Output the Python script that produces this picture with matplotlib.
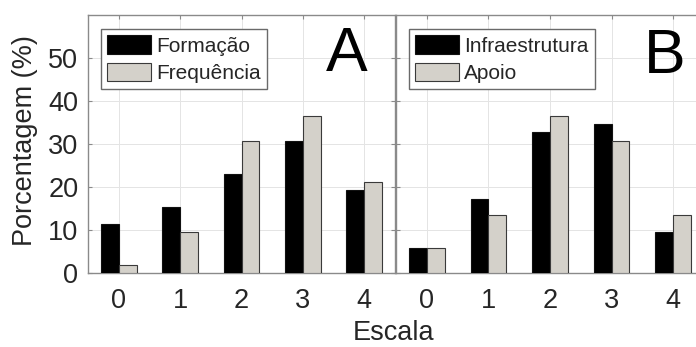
import matplotlib
matplotlib.use("Agg")
import matplotlib.pyplot as plt
import numpy as np

plt.rcParams['font.family'] = ['Liberation Sans', 'DejaVu Sans']

categories = [0, 1, 2, 3, 4]
formacao = [11.5, 15.4, 23.1, 30.8, 19.2]
frequencia = [1.9, 9.6, 30.8, 36.5, 21.2]
infraestrutura = [5.8, 17.3, 32.7, 34.6, 9.6]
apoio = [5.8, 13.5, 36.5, 30.8, 13.5]
yticks = [0, 10, 20, 30, 40, 50]

W, H = 696, 347
fig = plt.figure(figsize=(W / 100, H / 100), dpi=100)

BLACK = '#000000'
GRAY = '#D4D1CA'
SPINE = '#8a8a8a'
TXT = '#262626'
FS = 19.5

def setup(ax, s1, s2, l1, l2, letter, lx, ly, show_y):
    x = np.arange(len(categories))
    bw = 0.29
    ax.bar(x - bw / 2, s1, bw, color=BLACK, edgecolor='#111111', linewidth=0.8, label=l1, zorder=3)
    ax.bar(x + bw / 2, s2, bw, color=GRAY, edgecolor='#3a3a3a', linewidth=0.8, label=l2, zorder=3)
    ax.set_xlim(-0.5, 4.5)
    ax.set_ylim(0, 60)
    ax.set_xticks(x)
    ax.set_xticklabels([str(c) for c in categories])
    ax.set_yticks(yticks)
    if not show_y:
        ax.set_yticklabels([])
    ax.grid(True, color='#e4e4e4', linewidth=0.7, zorder=0)
    ax.set_axisbelow(True)
    for sp in ax.spines.values():
        sp.set_color(SPINE)
        sp.set_linewidth(1.0)
    ax.tick_params(direction='in', length=3, width=0.8, color=SPINE,
                   top=True, right=True, labelsize=FS, labelcolor=TXT)
    ax.tick_params(axis='x', pad=11)
    ax.tick_params(axis='y', pad=7)
    leg = ax.legend(loc='upper left', bbox_to_anchor=(0.042, 0.946), borderaxespad=0,
                    fontsize=15, frameon=True, fancybox=False, framealpha=1,
                    edgecolor='#6a6a6a', handlelength=2.1, handleheight=1.0,
                    handletextpad=0.25, labelspacing=0.34, borderpad=0.3)
    leg.get_frame().set_linewidth(1.0)
    for t in leg.get_texts():
        t.set_color(TXT)
    ax.text(lx, ly, letter, transform=ax.transAxes, ha='center', va='center',
            fontsize=45, color='black')

axA = fig.add_axes([88 / W, (H - 273) / H, 307 / W, 258 / H])
axB = fig.add_axes([396 / W, (H - 273) / H, 308 / W, 258 / H])
setup(axA, formacao, frequencia, 'Formação', 'Frequência', 'A', 0.844, 0.845, True)
setup(axB, infraestrutura, apoio, 'Infraestrutura', 'Apoio', 'B', 0.873, 0.841, False)

fig.text(394 / W, 0.5 / H, 'Escala', ha='center', va='bottom', fontsize=FS, color=TXT)
fig.text(25 / W, (H - 141) / H, 'Porcentagem (%)', ha='center', va='center',
         rotation=90, fontsize=FS, color=TXT)

fig.savefig('out.png', dpi=100)
